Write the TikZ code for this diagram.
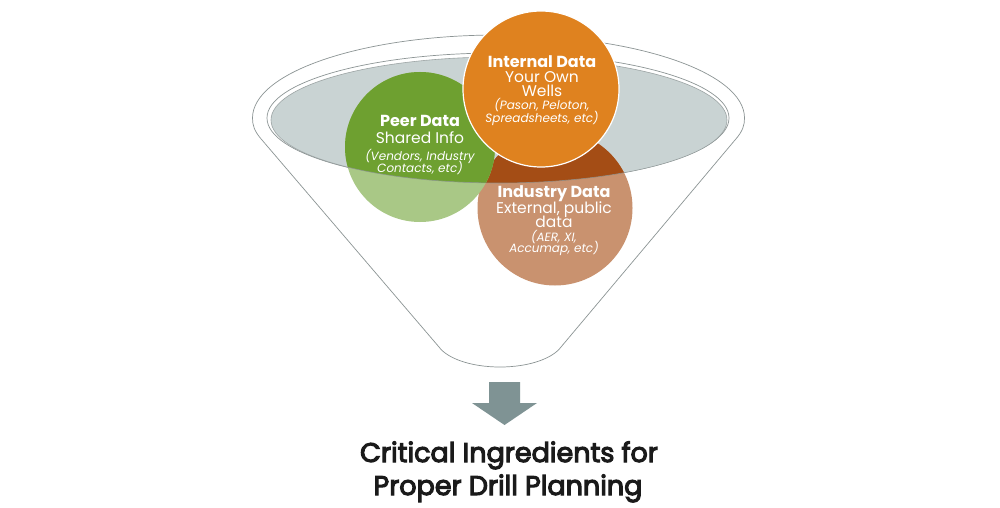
\documentclass[tikz,border=0pt]{standalone}
\usepackage{fontspec}
\setmainfont{Poppins}
\newfontfamily\titlefont{Poppins}[FakeBold=4]
\definecolor{rimgray}{HTML}{8C9494}
\definecolor{surfgray}{HTML}{C9D3D3}
\definecolor{orangeC}{HTML}{DF821F}
\definecolor{greenDark}{HTML}{6EA030}
\definecolor{greenLight}{HTML}{A9C886}
\definecolor{brownDark}{HTML}{A44D15}
\definecolor{brownLight}{HTML}{C9926F}
\definecolor{arrowgray}{HTML}{7F9394}
\definecolor{titleblack}{HTML}{1A1A1A}
\begin{document}
\begin{tikzpicture}[x=1pt,y=-1pt,
  funnelline/.style={draw=rimgray,line width=0.7pt},
  circtitle/.style={text=white,anchor=base,inner sep=0pt,font=\fontsize{16}{16}\selectfont\bfseries},
  circsub/.style={text=white,anchor=base,inner sep=0pt,font=\fontsize{15.5}{15.5}\selectfont},
  circital/.style={text=white,anchor=base,inner sep=0pt,font=\fontsize{12}{12}\selectfont\itshape},
  titletext/.style={text=titleblack,anchor=base,inner sep=0pt,font=\fontsize{27}{27}\selectfont\titlefont}]
\fill[white] (0,0) rectangle (1000,508);
\useasboundingbox (0,0) rectangle (1000,508);
% funnel body
\draw[funnelline] (262,140) .. controls (254,131) and (252.5,125) .. (252.5,118)
  arc[start angle=180,end angle=360,x radius=246,y radius=83]
  .. controls (744.5,125) and (743,131) .. (735,140) -- (561,347)
  .. controls (553,358) and (530,367) .. (500,367)
  .. controls (470,367) and (447,358) .. (439,347) -- cycle;
% rim inner outline and liquid surface
\draw[funnelline] (498,118) ellipse[x radius=231,y radius=65];
\fill[surfgray] (499,120) ellipse[x radius=228,y radius=63];
% industry circle
\fill[brownLight] (555,208) circle[radius=77.5];
\begin{scope}
  \clip (499,120) ellipse[x radius=228,y radius=63];
  \fill[brownDark] (555,208) circle[radius=77.5];
\end{scope}
% peer circle
\fill[greenLight] (420,147) circle[radius=75];
\begin{scope}
  \clip (499,120) ellipse[x radius=228,y radius=63];
  \fill[greenDark] (420,147) circle[radius=75];
\end{scope}
\draw[rimgray,line width=0.6pt,opacity=0.8] (499,120) ellipse[x radius=228,y radius=63];
% internal circle
\fill[orangeC,draw=white,line width=1.2pt] (541,89) circle[radius=78];
% texts
\node[circtitle] (intT) at (542,68) {Internal Data};
\node[circsub] (intA) at (542,83) {Your Own};
\node[circsub] (intB) at (542,97) {Wells};
\node[circital] (intC) at (542,110) {(Pason, Peloton,};
\node[circital] (intD) at (542,122) {Spreadsheets, etc)};
\node[circtitle] (peerT) at (420,127) {Peer Data};
\node[circsub] (peerA) at (420,143) {Shared Info};
\node[circital] (peerB) at (420,160) {(Vendors, Industry};
\node[circital] (peerC) at (420,172) {Contacts, etc)};
\node[circtitle] (indT) at (554,197) {Industry Data};
\node[circsub] (indA) at (554,213) {External, public};
\node[circsub] (indB) at (554,227) {data};
\node[circital] (indC) at (554,241) {(AER, XI,};
\node[circital] (indD) at (554,252) {Accumap, etc)};
% arrow
\fill[arrowgray] (489,382) -- (520,382) -- (520,403) -- (537,403) -- (504.5,425) -- (472,403) -- (489,403) -- cycle;
% title
\node[titletext] (t1) at (509,462) {Critical Ingredients for};
\node[titletext] (t2) at (508,495) {Proper Drill Planning};
\end{tikzpicture}
\end{document}
